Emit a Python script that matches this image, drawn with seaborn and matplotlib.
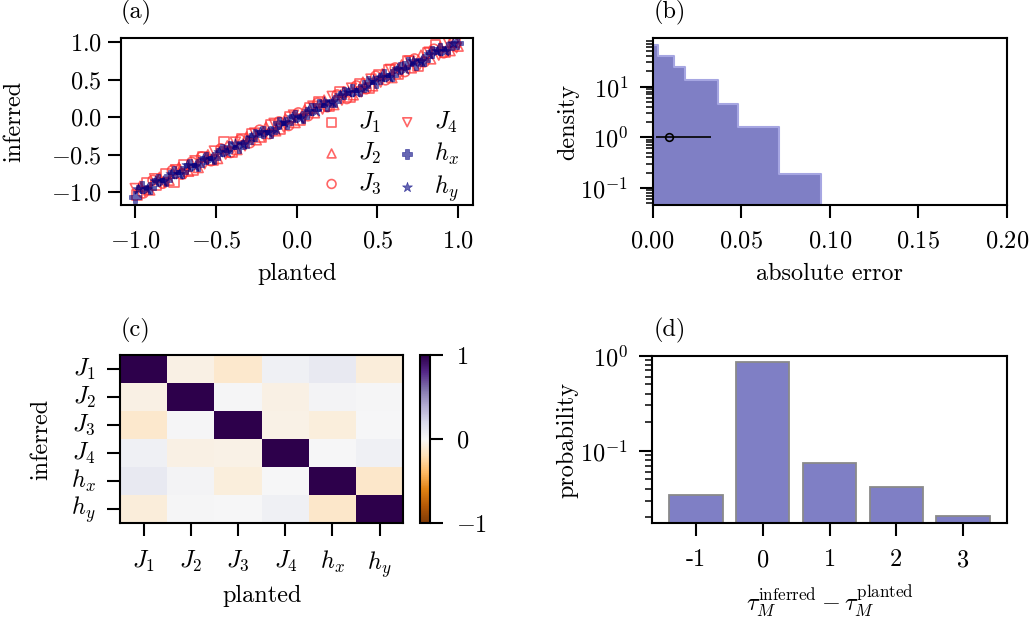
import numpy as np
import pandas as pd
import matplotlib
matplotlib.use("Agg")
import matplotlib.pyplot as plt
import seaborn as sns

# ---------------- data ----------------
# (a) planted vs inferred couplings / fields
J1_planted = [-0.99, -0.93, -0.87, -0.81, -0.76, -0.70, -0.64, -0.58, -0.52, -0.45, -0.40, -0.34,
              -0.28, -0.22, -0.16, -0.10, -0.04, 0.02, 0.08, 0.14, 0.20, 0.27, 0.33, 0.39, 0.45,
              0.51, 0.57, 0.63, 0.69, 0.75, 0.81, 0.86, 0.92, 0.98]
J1_inferred = [-1.04, -0.87, -0.91, -0.76, -0.87, -0.64, -0.70, -0.53, -0.57, -0.33, -0.46, -0.29,
               -0.22, -0.27, -0.10, -0.16, 0.01, -0.04, 0.13, 0.20, 0.15, 0.34, 0.27, 0.44, 0.39,
               0.56, 0.63, 0.58, 0.75, 0.69, 0.86, 0.97, 0.87, 1.00]
J2_planted = [-0.97, -0.91, -0.85, -0.79, -0.73, -0.67, -0.61, -0.55, -0.49, -0.43, -0.37, -0.31,
              -0.25, -0.19, -0.13, -0.07, -0.01, 0.05, 0.11, 0.17, 0.23, 0.29, 0.35, 0.41, 0.47,
              0.53, 0.59, 0.65, 0.71, 0.77, 0.83, 0.89, 0.95, 1.00]
J2_inferred = [-0.92, -0.97, -0.80, -0.84, -0.67, -0.72, -0.67, -0.50, -0.55, -0.38, -0.43, -0.26,
               -0.30, -0.13, -0.18, -0.02, -0.07, 0.10, 0.06, 0.23, 0.17, 0.34, 0.30, 0.47, 0.42,
               0.58, 0.53, 0.70, 0.66, 0.83, 0.78, 0.94, 0.89, 0.95]
J3_planted = [-0.95, -0.89, -0.83, -0.77, -0.71, -0.65, -0.59, -0.53, -0.47, -0.41, -0.35, -0.29,
              -0.23, -0.17, -0.11, -0.05, 0.01, 0.07, 0.13, 0.19, 0.25, 0.31, 0.37, 0.43, 0.49,
              0.55, 0.61, 0.67, 0.73, 0.79, 0.85, 0.91, 0.97]
J3_inferred = [-1.01, -0.84, -0.88, -0.71, -0.76, -0.60, -0.53, -0.58, -0.42, -0.47, -0.30, -0.34,
               -0.17, -0.22, -0.06, -0.11, 0.06, 0.02, 0.19, 0.14, 0.30, 0.25, 0.42, 0.38, 0.55,
               0.50, 0.66, 0.61, 0.78, 0.74, 0.91, 0.86, 1.00]
J4_planted = [-1.00, -0.94, -0.88, -0.82, -0.75, -0.69, -0.63, -0.57, -0.51, -0.44, -0.38, -0.32,
              -0.26, -0.20, -0.14, -0.08, -0.02, 0.04, 0.10, 0.16, 0.22, 0.28, 0.34, 0.40, 0.46,
              0.52, 0.58, 0.64, 0.70, 0.76, 0.82, 0.88, 0.94, 0.99]
J4_inferred = [-0.95, -0.99, -0.82, -0.87, -0.70, -0.75, -0.58, -0.62, -0.45, -0.49, -0.33, -0.38,
               -0.21, -0.25, -0.08, -0.13, 0.03, -0.02, 0.15, 0.11, 0.28, 0.23, 0.39, 0.34, 0.51,
               0.47, 0.64, 0.59, 0.75, 0.70, 0.87, 0.83, 0.99, 0.93]
hx_planted = [-1.00, -0.96, -0.91, -0.86, -0.81, -0.76, -0.71, -0.66, -0.61, -0.56, -0.51, -0.46,
              -0.41, -0.36, -0.31, -0.26, -0.21, -0.16, -0.11, -0.06, -0.01, 0.04, 0.09, 0.14,
              0.19, 0.24, 0.29, 0.34, 0.39, 0.44, 0.49, 0.54, 0.59, 0.64, 0.69, 0.74, 0.79, 0.84,
              0.89, 0.94, 0.99]
hx_inferred = [-1.06, -0.93, -0.94, -0.84, -0.84, -0.73, -0.73, -0.63, -0.64, -0.54, -0.54, -0.43,
               -0.39, -0.39, -0.33, -0.23, -0.19, -0.19, -0.08, -0.08, 0.02, 0.01, 0.11, 0.17,
               0.16, 0.22, 0.32, 0.36, 0.36, 0.47, 0.47, 0.57, 0.56, 0.66, 0.72, 0.71, 0.77, 0.87,
               0.91, 0.92, 0.99]
hy_planted = [-0.98, -0.93, -0.88, -0.83, -0.78, -0.73, -0.68, -0.63, -0.58, -0.53, -0.48, -0.43,
              -0.38, -0.33, -0.28, -0.23, -0.18, -0.13, -0.08, -0.03, 0.02, 0.07, 0.12, 0.17,
              0.22, 0.27, 0.32, 0.37, 0.42, 0.47, 0.52, 0.57, 0.62, 0.67, 0.72, 0.77, 0.82, 0.87,
              0.92, 0.97]
hy_inferred = [-0.96, -0.96, -0.85, -0.85, -0.75, -0.76, -0.64, -0.65, -0.55, -0.56, -0.46, -0.46,
               -0.35, -0.36, -0.26, -0.20, -0.20, -0.16, -0.06, 0.00, -0.01, 0.09, 0.09, 0.20,
               0.20, 0.30, 0.34, 0.34, 0.40, 0.50, 0.54, 0.54, 0.64, 0.64, 0.75, 0.75, 0.85, 0.89,
               0.89, 0.99]

# (b) histogram of the absolute error (bin edges and densities)
error_edges = [0.0, 0.0033, 0.0121, 0.0181, 0.0367, 0.0484, 0.0713, 0.0948]
error_density = [65.6, 39.8, 24.5, 13.4, 4.52, 1.60, 0.19]
error_center = 0.0093
error_low = 0.0020
error_high = 0.0328

# (c) correlation between planted and inferred parameters
param_labels = ["$J_1$", "$J_2$", "$J_3$", "$J_4$", "$h_x$", "$h_y$"]
corr = [
    [1.00, -0.06, -0.13, 0.05, 0.10, -0.09],
    [-0.06, 1.00, 0.01, -0.06, 0.03, 0.01],
    [-0.13, 0.01, 1.00, -0.05, -0.08, 0.00],
    [0.05, -0.06, -0.05, 1.00, 0.00, 0.05],
    [0.10, 0.03, -0.08, 0.00, 1.00, -0.14],
    [-0.09, 0.01, 0.00, 0.05, -0.14, 1.00],
]

# (d) distribution of the shift in tau_M
shift_labels = ["-1", "0", "1", "2", "3"]
shift_prob = [0.0344, 0.850, 0.0753, 0.0415, 0.0208]

# ---------------- style ----------------
FS = 17.5
sns.set_theme(style="ticks")
plt.rcParams.update({
    "font.family": "serif",
    "font.serif": ["cmr10"],
    "mathtext.fontset": "cm",
    "axes.formatter.use_mathtext": True,
    "axes.unicode_minus": True,
    "font.size": FS,
    "axes.labelsize": FS,
    "xtick.labelsize": FS,
    "ytick.labelsize": FS,
    "legend.fontsize": FS,
    "text.color": "black",
    "axes.labelcolor": "black",
    "axes.edgecolor": "black",
    "xtick.color": "black",
    "ytick.color": "black",
    "axes.linewidth": 1.5,
    "xtick.major.size": 9.5,
    "ytick.major.size": 9.5,
    "xtick.major.width": 1.5,
    "ytick.major.width": 1.5,
    "xtick.minor.size": 5.0,
    "ytick.minor.size": 5.0,
    "xtick.minor.width": 1.1,
    "ytick.minor.width": 1.1,
    "xtick.major.pad": 9.0,
    "ytick.major.pad": 4.0,
})

W, H = 1035, 623
fig = plt.figure(figsize=(W / 100, H / 100), dpi=100)


def box(x0, y0, x1, y1):
    return [x0 / W, 1 - y1 / H, (x1 - x0) / W, (y1 - y0) / H]


ax_a = fig.add_axes(box(120.7, 38.3, 472.7, 205.0))
ax_b = fig.add_axes(box(652.5, 38.3, 1007.0, 205.0))
ax_c = fig.add_axes(box(120.0, 355.0, 403.3, 523.3))
cax = fig.add_axes(box(420.0, 355.0, 430.0, 523.3))
ax_d = fig.add_axes(box(652.3, 355.7, 1006.7, 523.3))

red = (1.0, 0.2, 0.2, 0.75)
blue = (0.0, 0.0, 0.5, 0.6)

# ---------------- (a) ----------------
red_series = [("$J_1$", "s", J1_planted, J1_inferred),
              ("$J_2$", "^", J2_planted, J2_inferred),
              ("$J_3$", "o", J3_planted, J3_inferred),
              ("$J_4$", "v", J4_planted, J4_inferred)]
for lab, mk, xs, ys in red_series:
    sns.scatterplot(x=xs, y=ys, marker=mk, s=50, facecolor="none", edgecolor=red,
                    linewidth=1.2, ax=ax_a, label=lab)
blue_series = [("$h_x$", "P", hx_planted, hx_inferred),
               ("$h_y$", "*", hy_planted, hy_inferred)]
for lab, mk, xs, ys in blue_series:
    sns.scatterplot(x=xs, y=ys, marker=mk, s=70, color=blue, edgecolor=blue,
                    linewidth=0.5, ax=ax_a, label=lab)
for coll in ax_a.collections[:4]:
    coll.set_facecolor("none")

ax_a.set_xlim(-1.09, 1.09)
ax_a.set_ylim(-1.17, 1.055)
ax_a.set_xticks([-1.0, -0.5, 0.0, 0.5, 1.0])
ax_a.set_yticks([-1.0, -0.5, 0.0, 0.5, 1.0])
ax_a.set_xlabel("planted")
ax_a.set_ylabel("inferred")
ax_a.legend(ncol=2, frameon=False, loc="lower right", bbox_to_anchor=(0.995, -0.065),
            handlelength=1.6, handletextpad=0.3, columnspacing=0.25,
            labelspacing=0.25, borderaxespad=0.1, markerscale=0.9)

# ---------------- (b) ----------------
centers = [(error_edges[i] + error_edges[i + 1]) / 2 for i in range(len(error_density))]
sns.histplot(x=centers, weights=error_density, bins=error_edges, stat="count",
             element="step", fill=True, facecolor="#7f7fc5", edgecolor="#a6a6e2",
             linewidth=1.5, ax=ax_b)
ax_b.set_yscale("log")
ax_b.errorbar([error_center], [1.0],
              xerr=[[error_center - error_low], [error_high - error_center]],
              fmt="o", mfc="none", mec="black", color="black", ms=5.5, mew=1.2,
              elinewidth=1.2, zorder=5)
ax_b.set_xlim(0.0, 0.2)
ax_b.set_ylim(0.046, 89.8)
ax_b.set_xticks([0.0, 0.05, 0.10, 0.15, 0.20])
ax_b.set_xlabel("absolute error")
ax_b.set_ylabel("density", labelpad=1)
ax_b.tick_params(axis="y", which="major", pad=8)

# ---------------- (c) ----------------
corr_df = pd.DataFrame(corr, index=param_labels, columns=param_labels)
sns.heatmap(corr_df, cmap="PuOr", vmin=-1, vmax=1, ax=ax_c, cbar_ax=cax,
            xticklabels=True, yticklabels=True,
            cbar_kws={"ticks": [-1, 0, 1]}, linewidths=0)
for sp in ax_c.spines.values():
    sp.set_visible(True)
    sp.set_linewidth(1.5)
    sp.set_color("black")
ax_c.tick_params(axis="both", which="major", length=9.5, width=1.5)
ax_c.tick_params(axis="y", rotation=0, pad=8)
ax_c.tick_params(axis="x", rotation=0)
ax_c.set_xlabel("planted")
ax_c.set_ylabel("inferred")
cbar = ax_c.collections[0].colorbar
cbar.outline.set_visible(True)
cbar.outline.set_linewidth(1.5)
cbar.outline.set_edgecolor("black")
cbar.ax.tick_params(length=9.5, width=1.5, pad=9)

# ---------------- (d) ----------------
sns.barplot(x=shift_labels, y=shift_prob, color="#7f7fc5", saturation=1,
            edgecolor="#8a8a8a", linewidth=1.3, width=0.8, ax=ax_d)
ax_d.set_yscale("log")
ax_d.set_ylim(0.0173, 1.0)
ax_d.set_xlim(-0.65, 4.65)
ax_d.set_xlabel(r"$\tau_M^{\mathrm{inferred}} - \tau_M^{\mathrm{planted}}$")
ax_d.set_ylabel("probability", labelpad=1)
ax_d.tick_params(axis="y", which="major", pad=8)

# axis label placement (label anchor: right edge for y labels, top edge for x labels)
ax_a.yaxis.set_label_coords(-0.272, 0.5)
ax_c.yaxis.set_label_coords(-0.240, 0.5)
ax_a.xaxis.set_label_coords(0.5, -0.345)
ax_b.xaxis.set_label_coords(0.5, -0.345)
ax_c.xaxis.set_label_coords(0.5, -0.365)
ax_d.xaxis.set_label_coords(0.5, -0.36)

# panel tags
for tag, x, y in [("(a)", 120.7, 25), ("(b)", 653.3, 25), ("(c)", 120.7, 343), ("(d)", 653.3, 343)]:
    fig.text(x / W, 1 - y / H, tag, ha="left", va="bottom")

fig.savefig("out.png", dpi=100)
